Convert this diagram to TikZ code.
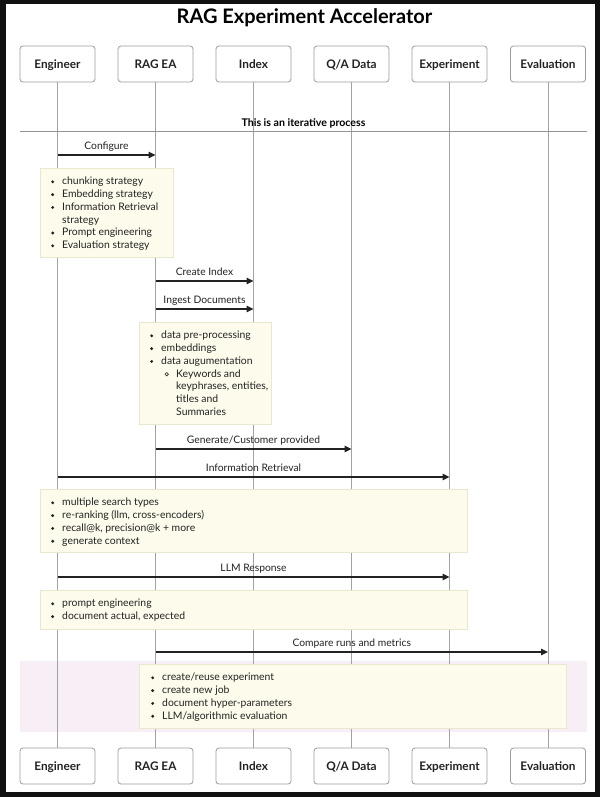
\documentclass[tikz,border=0pt]{standalone}
\usepackage{fontspec}
\setmainfont{Lato}
\usetikzlibrary{arrows.meta}
\definecolor{txt}{HTML}{222222}
\definecolor{lifec}{HTML}{A3A3A3}
\definecolor{actorc}{HTML}{9C9C9C}
\definecolor{notefill}{HTML}{FDFCEC}
\definecolor{noteline}{HTML}{E9E7CF}
\definecolor{pinkbg}{HTML}{F8EEF5}
\definecolor{frame}{HTML}{111111}
\newcounter{lnc}
\newcommand\ntBul[3]{\stepcounter{lnc}\fill[txt] (#1-9.3,#2+0.8) circle (1.6pt);
  \node[ntext] (line\thelnc) at (#1,#2+3.7) {#3};}
\newcommand\ntCont[3]{\stepcounter{lnc}\node[ntext] (line\thelnc) at (#1,#2+3.7) {#3};}
\newcommand\ntSub[3]{\stepcounter{lnc}\draw[txt,line width=0.6pt] (#1-9.3,#2+0.8) circle (1.7pt);
  \node[ntext] (line\thelnc) at (#1,#2+3.7) {#3};}
\begin{document}
\begin{tikzpicture}[x=1pt,y=-1pt,
  actor/.style={draw=actorc, fill=white, rounded corners=3pt, line width=0.8pt,
    minimum width=75pt, minimum height=36pt, inner sep=0pt, text=txt,
    font=\bfseries\fontsize{11.8}{13}\selectfont, text height=8.5pt, text depth=0pt},
  life/.style={draw=lifec, line width=0.8pt},
  note/.style={draw=noteline, fill=notefill, line width=0.6pt, anchor=north west, inner sep=0pt},
  ntext/.style={anchor=base west, inner sep=0pt, text=txt, font=\fontsize{10.4}{12.8}\selectfont},
  msg/.style={draw=txt, line width=1.1pt, -{Triangle[length=7pt,width=6.5pt]}},
  mlab/.style={midway, anchor=base, yshift=5.5pt, inner sep=0pt, text=txt, font=\fontsize{10.3}{12}\selectfont},
]
\useasboundingbox (0,0) rectangle (600,797);
\fill[frame] (0,0) rectangle (600,797);
\fill[white] (6,4) rectangle (595,792);

\node[font=\bfseries\fontsize{20}{22}\selectfont, text=black, inner sep=0pt, text height=14.3pt, text depth=0pt] (title) at (304.5,16.5) {RAG Experiment Accelerator};

% pink region
\fill[pinkbg] (20,660.5) rectangle (587,732);

% actors
\node[actor] (engT) at (57.5,64) {Engineer};
\node[actor] (ragT) at (155.5,64) {RAG EA};
\node[actor] (idxT) at (253.5,64) {Index};
\node[actor] (qaT) at (351.5,64) {Q/A Data};
\node[actor] (expT) at (449.5,64) {Experiment};
\node[actor] (evaT) at (548,64) {Evaluation};
\node[actor] (engB) at (57.5,766) {Engineer};
\node[actor] (ragB) at (155.5,766) {RAG EA};
\node[actor] (idxB) at (253.5,766) {Index};
\node[actor] (qaB) at (351.5,766) {Q/A Data};
\node[actor] (expB) at (449.5,766) {Experiment};
\node[actor] (evaB) at (548,766) {Evaluation};

% lifelines
\draw[life] (engT.south) -- (engB.north);
\draw[life] (ragT.south) -- (ragB.north);
\draw[life] (idxT.south) -- (idxB.north);
\draw[life] (qaT.south) -- (qaB.north);
\draw[life] (expT.south) -- (expB.north);
\draw[life] (evaT.south) -- (evaB.north);

% iterative separator
\coordinate (itL) at (20,131);
\coordinate (itR) at (587,131);
\draw[draw=lifec!90!black, line width=0.8pt] (itL) -- (itR);
\node[inner sep=0pt, text=black, font=\bfseries\fontsize{10.6}{12}\selectfont, anchor=base] (itlab) at (303.5,127) {This is an iterative process};

% messages
\coordinate (m1a) at (57.5,155);  \coordinate (m1b) at (155.5,155);
\coordinate (m2a) at (155.5,281); \coordinate (m2b) at (253.5,281);
\coordinate (m3a) at (155.5,309); \coordinate (m3b) at (253.5,309);
\coordinate (m4a) at (155.5,449); \coordinate (m4b) at (351.5,449);
\coordinate (m5a) at (57.5,477);  \coordinate (m5b) at (449.5,477);
\coordinate (m6a) at (57.5,577);  \coordinate (m6b) at (449.5,577);
\coordinate (m7a) at (155.5,652); \coordinate (m7b) at (548,652);
\draw[msg] (m1a) -- node[mlab] (l1) {Configure} (m1b);
\draw[msg] (m2a) -- node[mlab] (l2) {Create Index} (m2b);
\draw[msg] (m3a) -- node[mlab] (l3) {Ingest Documents} (m3b);
\draw[msg] (m4a) -- node[mlab] (l4) {Generate/Customer provided} (m4b);
\draw[msg] (m5a) -- node[mlab] (l5) {Information Retrieval} (m5b);
\draw[msg] (m6a) -- node[mlab] (l6) {LLM Response} (m6b);
\draw[msg] (m7a) -- node[mlab] (l7) {Compare runs and metrics} (m7b);

% note 1
\node[note, minimum width=133pt, minimum height=89pt] (n1) at (40,168) {};
\ntBul{62}{181}{chunking strategy}
\ntBul{62}{193.8}{Embedding strategy}
\ntBul{62}{206.6}{Information Retrieval}
\ntCont{62}{219.4}{strategy}
\ntBul{62}{232.2}{Prompt engineering}
\ntBul{62}{245}{Evaluation strategy}

% note 2
\node[note, minimum width=132pt, minimum height=102pt] (n2) at (139,322) {};
\ntBul{161}{335}{data pre-processing}
\ntBul{161}{347.8}{embeddings}
\ntBul{161}{360.6}{data augumentation}
\ntSub{176}{373.4}{Keywords and}
\ntCont{176}{386.2}{keyphrases, entities,}
\ntCont{176}{399}{titles and}
\ntCont{176}{411.8}{Summaries}

% note 3
\node[note, minimum width=427pt, minimum height=63pt] (n3) at (40,489) {};
\ntBul{62}{502}{multiple search types}
\ntBul{62}{514.8}{re-ranking (llm, cross-encoders)}
\ntBul{62}{527.6}{recall@k, precision@k + more}
\ntBul{62}{540.4}{generate context}

% note 4
\node[note, minimum width=427pt, minimum height=39pt] (n4) at (40,590) {};
\ntBul{62}{603}{prompt engineering}
\ntBul{62}{615.8}{document actual, expected}

% note 5
\node[note, minimum width=427pt, minimum height=64pt] (n5) at (139,664) {};
\ntBul{162}{677}{create/reuse experiment}
\ntBul{162}{689.8}{create new job}
\ntBul{162}{702.6}{document hyper-parameters}
\ntBul{162}{715.4}{LLM/algorithmic evaluation}
\end{tikzpicture}
\end{document}
